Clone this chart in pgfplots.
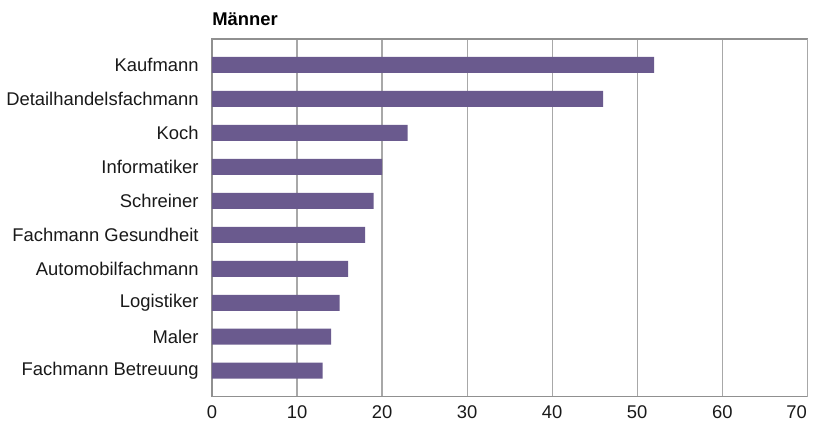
\documentclass[border=0pt]{standalone}
\usepackage{fontspec}
\setmainfont{Liberation Sans}
\usepackage{pgfplots}
\pgfplotsset{compat=1.18}
\definecolor{barc}{HTML}{6A5A8E}
\definecolor{gridc}{HTML}{A8A8A8}
\definecolor{framec}{HTML}{909090}
\begin{document}
\fontsize{9.2bp}{11bp}\selectfont
\begin{tikzpicture}
\useasboundingbox (-106bp,-14.15bp) rectangle (301bp,198.35bp);
\begin{axis}[
  at={(0,0)}, anchor=south west,
  scale only axis,
  width=297.65bp, height=178.85bp,
  xbar, bar width=8bp,
  xmin=0, xmax=70,
  ymin=-0.765, ymax=9.765,
  xtick={0,10,...,60},
  extra x ticks={70},
  extra x tick style={xticklabel style={anchor=north east, xshift=0bp}},
  ytick={0,...,9},
  yticklabels={Fachmann Betreuung,Maler,Logistiker,Automobilfachmann,Fachmann Gesundheit,Schreiner,Informatiker,Koch,Detailhandelsfachmann,Kaufmann},
  major tick length=0pt,
  xmajorgrids, grid style={gridc, line width=0.6bp},
  axis line style={framec, line width=0.7bp},
  /pgf/number format/assume math mode=true,
  ticklabel style={font=\fontsize{9.2bp}{11bp}\selectfont, text=black!90},
  yticklabel style={anchor=east, inner sep=0pt, xshift=-6.5bp},
  xticklabel style={anchor=north, inner sep=0pt, yshift=-4.2bp},
]
\addplot[fill=barc, draw=none] coordinates {
  (13,0) (14,1) (15,2) (16,3) (18,4) (19,5) (20,6) (23,7) (46,8) (52,9)
};
\end{axis}
\node[anchor=base west, inner sep=0pt, font=\bfseries\fontsize{9.2bp}{11bp}\selectfont] at (0bp,185.35bp) {Männer};
\end{tikzpicture}
\end{document}
